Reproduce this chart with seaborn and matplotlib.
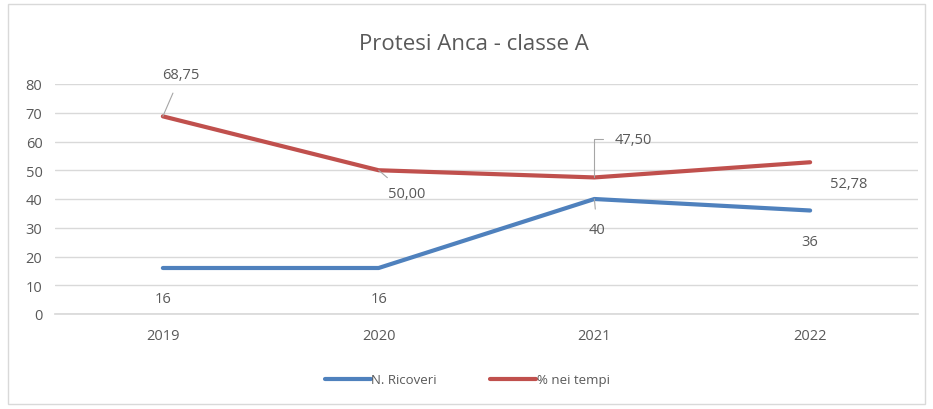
import matplotlib
matplotlib.use("Agg")
import matplotlib.pyplot as plt
import seaborn as sns
import pandas as pd
from matplotlib.patches import Rectangle
from matplotlib.lines import Line2D

years = ["2019", "2020", "2021", "2022"]
ricoveri = [16, 16, 40, 36]
perc = [68.75, 50.00, 47.50, 52.78]
ricoveri_labels = ["16", "16", "40", "36"]
perc_labels = ["68,75", "50,00", "47,50", "52,78"]

sns.set_theme(style="white")
plt.rcParams['font.family'] = ['Open Sans', 'DejaVu Sans']

df = pd.DataFrame({
    "Anno": years * 2,
    "Valore": ricoveri + perc,
    "Serie": ["N. Ricoveri"] * 4 + ["% nei tempi"] * 4,
})

blue = "#4F81BD"
red = "#C0504D"
grey = "#595959"

fig = plt.figure(figsize=(9.33, 4.10), dpi=100)
fig.patches.append(Rectangle((8/933, 5/410), 917/933, 400/410, transform=fig.transFigure,
                             fill=False, edgecolor="#D9D9D9", linewidth=1))
ax = fig.add_axes([55/933, 1 - 315/410, (918 - 55)/933, (315 - 85)/410])

sns.lineplot(data=df, x="Anno", y="Valore", hue="Serie", palette=[blue, red],
             linewidth=3, ax=ax, legend=False, sort=False)

ax.set_xlim(-0.5, 3.5)
ax.set_ylim(0, 80)
ax.set_yticks(range(0, 81, 10))
ax.grid(axis="y", color="#D9D9D9", linewidth=1)
ax.set_axisbelow(True)
for s in ["top", "right", "left"]:
    ax.spines[s].set_visible(False)
ax.spines["bottom"].set_color("#D9D9D9")
ax.tick_params(axis="both", length=0, colors=grey, labelsize=10.5)
ax.tick_params(axis="x", pad=10)
ax.tick_params(axis="y", pad=9)
ax.set_xlabel("")
ax.set_ylabel("")

# Data labels for blue series (below)
for i, (v, lab) in enumerate(zip(ricoveri, ricoveri_labels)):
    dx, dy = (2, -22) if i == 2 else (0, -22)
    ax.annotate(lab, (i, v), xytext=(dx, dy), textcoords="offset points",
                ha="center", va="center", fontsize=10.5, color=grey,
                arrowprops=dict(arrowstyle="-", color="#A6A6A6", lw=0.8,
                                shrinkA=7, shrinkB=0) if i == 2 else None)

# Data labels for red series
red_offsets = [(13, 30), (20, -17), (28, 27), (28, -15)]
for i, (v, lab) in enumerate(zip(perc, perc_labels)):
    dx, dy = red_offsets[i]
    arrow = None
    if i in (0, 1):
        arrow = dict(arrowstyle="-", color="#A6A6A6", lw=0.8, shrinkA=6, shrinkB=0)
    ax.annotate(lab, (i, v), xytext=(dx, dy), textcoords="offset points",
                ha="center", va="center", fontsize=10.5, color=grey,
                arrowprops=arrow)
# leader for 47,50 (elbow)
ax.plot([2, 2], [perc[2], perc[2] + 13.5], color="#A6A6A6", lw=0.8)
ax.plot([2, 2.04], [perc[2] + 13.5, perc[2] + 13.5], color="#A6A6A6", lw=0.8)

fig.text(474/933, 1 - 45/410, "Protesi Anca - classe A", ha="center", va="center",
         fontsize=16, color=grey)

handles = [Line2D([0], [0], color=blue, lw=3), Line2D([0], [0], color=red, lw=3)]
fig.legend(handles, ["N. Ricoveri", "% nei tempi"], loc="center",
           bbox_to_anchor=(467/933, 1 - 381/410), ncol=2, frameon=False,
           fontsize=9.5, handlelength=3.5, handletextpad=0.05, columnspacing=4.0,
           labelcolor=grey)

fig.savefig("out.png", dpi=100)
